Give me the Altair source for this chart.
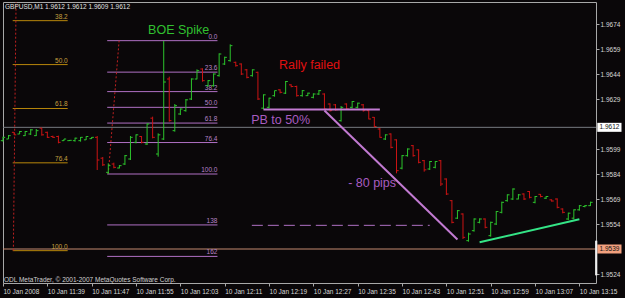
import altair as alt
import pandas as pd

FONT = "Liberation Sans"
BG = "#0a0709"
UP = "#2cc42c"
DN = "#cc1414"
VIOLET = "#b070c4"
GOLD = "#b8860b"

# ---------------- data ----------------
opens = [1.9604, 1.9605, 1.9609, 1.9608, 1.9607, 1.9608, 1.9607, 1.96115, 1.9609, 1.96065,
         1.96065, 1.9604, 1.9604, 1.9604, 1.9604, 1.96045, 1.96052, 1.9606, 1.95935, 1.9585,
         1.959, 1.95876, 1.959, 1.9593, 1.9603, 1.96065, 1.9602, 1.96175, 1.9596, 1.9605,
         1.9641, 1.961, 1.962, 1.9622, 1.9629, 1.9641, 1.9647, 1.9637, 1.9637, 1.9643,
         1.965, 1.9652, 1.9651, 1.965, 1.96465, 1.9643, 1.9645, 1.96235, 1.9624, 1.9631,
         1.96345, 1.96325, 1.96375, 1.96365, 1.9631, 1.9631, 1.963, 1.9632, 1.9632, 1.9626,
         1.96255, 1.9616, 1.9626, 1.9624, 1.9624, 1.96255, 1.9622, 1.9618, 1.9611, 1.9605,
         1.9608, 1.96045, 1.95875, 1.9595, 1.9601, 1.95985, 1.9592, 1.9587, 1.9588, 1.9592,
         1.9581, 1.9568, 1.95575, 1.956, 1.9544, 1.955, 1.9555, 1.9557, 1.9547, 1.9554,
         1.9561, 1.9568, 1.9569, 1.9569, 1.9572, 1.95735, 1.9567, 1.95718, 1.95695, 1.95685,
         1.9569, 1.9563, 1.9557, 1.95575, 1.95625, 1.95645, 1.9565]
highs = [1.96064, 1.96074, 1.96092, 1.96098, 1.96098, 1.9611, 1.9611, 1.96118, 1.96094, 1.9607,
         1.9607, 1.9605, 1.96044, 1.96058, 1.96062, 1.96066, 1.96062, 1.96068, 1.95942, 1.95904,
         1.95908, 1.95894, 1.95954, 1.96068, 1.96078, 1.96068, 1.96144, 1.96184, 1.96084, 1.96638,
         1.96424, 1.9626, 1.96234, 1.9629, 1.96414, 1.96468, 1.96474, 1.96404, 1.96444, 1.96564,
         1.96544, 1.96618, 1.96514, 1.96504, 1.9647, 1.96468, 1.96454, 1.96318, 1.96298, 1.9634,
         1.96348, 1.96398, 1.96378, 1.9637, 1.96344, 1.96328, 1.96324, 1.96344, 1.96324, 1.96264,
         1.9626, 1.96248, 1.96264, 1.96278, 1.96268, 1.9626, 1.96224, 1.96182, 1.96116, 1.96078,
         1.96084, 1.96048, 1.95954, 1.95994, 1.96014, 1.95988, 1.95924, 1.95918, 1.95918, 1.95924,
         1.95814, 1.95684, 1.95624, 1.95604, 1.95488, 1.95574, 1.95574, 1.95574, 1.95554, 1.95618,
         1.95674, 1.95718, 1.95754, 1.9572, 1.95724, 1.95738, 1.95708, 1.9572, 1.95708, 1.95688,
         1.95694, 1.95634, 1.95608, 1.95628, 1.95654, 1.95654, 1.95674]
lows = [1.96034, 1.9605, 1.96074, 1.9608, 1.96068, 1.96074, 1.96068, 1.9607, 1.96056, 1.96056,
        1.96024, 1.96038, 1.96038, 1.96034, 1.96034, 1.96044, 1.9605, 1.95864, 1.95888, 1.9584,
        1.95874, 1.95874, 1.95894, 1.95924, 1.96024, 1.96024, 1.96014, 1.96054, 1.95944, 1.96044,
        1.96154, 1.96094, 1.96194, 1.96214, 1.96284, 1.96408, 1.96394, 1.96364, 1.96364, 1.96424,
        1.96494, 1.96514, 1.96484, 1.96434, 1.96414, 1.96424, 1.96284, 1.96228, 1.96234, 1.96304,
        1.96324, 1.9632, 1.9636, 1.96304, 1.96304, 1.96308, 1.96294, 1.96314, 1.96224, 1.96214,
        1.9622, 1.96154, 1.96224, 1.96234, 1.96234, 1.96214, 1.96168, 1.9612, 1.96058, 1.96044,
        1.95994, 1.95844, 1.95868, 1.95944, 1.95944, 1.95904, 1.95854, 1.95864, 1.95874, 1.95768,
        1.95714, 1.95544, 1.9557, 1.9545, 1.95434, 1.95494, 1.95544, 1.95514, 1.95464, 1.95534,
        1.95604, 1.95674, 1.95684, 1.95688, 1.95684, 1.95694, 1.95664, 1.957, 1.9569, 1.95674,
        1.95634, 1.95604, 1.95564, 1.95568, 1.9562, 1.9564, 1.95648]
closes = [1.9606, 1.9607, 1.96075, 1.96095, 1.96095, 1.96105, 1.961, 1.96075, 1.9606, 1.9606,
          1.9603, 1.9605, 1.96042, 1.96055, 1.9606, 1.96065, 1.9606, 1.95924, 1.95895, 1.9589,
          1.9588, 1.9589, 1.9595, 1.9606, 1.96075, 1.9603, 1.9614, 1.9606, 1.96075, 1.96392,
          1.9616, 1.9625, 1.9623, 1.96285, 1.9641, 1.9646, 1.964, 1.964, 1.9644, 1.9656,
          1.9654, 1.9661, 1.9649, 1.9644, 1.9642, 1.96465, 1.9629, 1.96315, 1.96295, 1.9634,
          1.9633, 1.96395, 1.96365, 1.9631, 1.9634, 1.96325, 1.9632, 1.9634, 1.9623, 1.9622,
          1.96225, 1.9624, 1.9623, 1.96275, 1.96265, 1.9622, 1.9617, 1.96125, 1.9606, 1.96075,
          1.96, 1.9586, 1.9595, 1.9599, 1.9595, 1.9591, 1.95865, 1.95915, 1.95915, 1.9578,
          1.9572, 1.9555, 1.9562, 1.9546, 1.9548, 1.9557, 1.9557, 1.9552, 1.9555, 1.95615,
          1.9567, 1.95715, 1.9575, 1.95715, 1.9569, 1.957, 1.95705, 1.95705, 1.95705, 1.95678,
          1.9564, 1.9561, 1.95605, 1.95625, 1.9565, 1.9565, 1.9567]

tick_minutes = [0, 8, 16, 24, 32, 40, 48, 56, 64, 72, 80, 88, 96, 104]
tick_labels = ["10 Jan 2008", "10 Jan 11:39", "10 Jan 11:47", "10 Jan 11:55", "10 Jan 12:03",
               "10 Jan 12:11", "10 Jan 12:19", "10 Jan 12:27", "10 Jan 12:35", "10 Jan 12:43",
               "10 Jan 12:51", "10 Jan 12:59", "10 Jan 13:07", "10 Jan 13:15"]
price_ticks = [1.9524, 1.9554, 1.9569, 1.9584, 1.9599, 1.9629, 1.9644, 1.9659, 1.9674]

fib_levels = [0, 23.6, 38.2, 50.0, 61.8, 76.4, 100.0, 138.2, 161.8]
fib_texts = ["0.0", "23.6", "38.2", "50.0", "61.8", "76.4", "100.0", "138", "162"]
fib1_hi, fib1_lo, fib1_t = 1.97613, 1.95380, [1.75, 11.67]
fib2_hi, fib2_lo, fib2_t = 1.96640, 1.95840, [18.8, 38.7]
fib1_trend = [(1.87, 1.95380), (2.60, 1.97613)]
fib2_trend = [(19.0, 1.95840), (20.95, 1.96640)]

hlines = [1.9612, 1.9539]
hline_colors = ["#767a80", "#c48a70"]

pb_line = [(47, 1.96227), (68, 1.96227)]
drop_line = [(58, 1.96221), (82, 1.95447)]
support_line = [(86, 1.95430), (104, 1.95568)]
dash_line = [(44.9, 1.95532), (77.0, 1.95532)]

ann_text = ["BOE Spike", "Rally failed", "PB to 50%", "- 80 pips"]
ann_t = [31.7, 55.3, 50.1, 66.6]
ann_price = [1.96704, 1.96494, 1.96164, 1.95786]
ann_color = ["#30c030", "#e01010", "#a85cc0", "#a85cc0"]

box_prices = [1.9612, 1.9539]
box_fill = ["#ffffff", "#f2a07e"]
box_text = ["1.9612", "1.9539"]
scroll_mark = [1.95440, 1.95232]

title_text = "GBPUSD,M1  1.9612 1.9612 1.9609 1.9612"
footer_text = "ODL MetaTrader, \u00a9 2001-2007 MetaQuotes Software Corp."

# ---------------- scales / axes ----------------
W, H = 593, 281
X_SCALE = alt.Scale(domain=[0, 107], nice=False, zero=False)
Y_SCALE = alt.Scale(domain=[1.95186, 1.96872], nice=False, zero=False)
label_arr = "[" + ",".join("'%s'" % s for s in tick_labels) + "]"
x_axis = alt.Axis(values=tick_minutes, labelExpr=label_arr + "[round(datum.value/8)]",
                  orient="bottom", domain=False, grid=False, ticks=True, tickSize=3,
                  tickColor="#a8a8a8", labelAlign="left", labelBaseline="top",
                  labelPadding=2, labelColor="#d8d8d8", labelFont=FONT, labelFontSize=6.5,
                  labelOverlap=False, labelFlush=False, title=None)
y_axis = alt.Axis(values=price_ticks, format=".4f", orient="right", domain=False, grid=False,
                  ticks=True, tickSize=3, tickColor="#a8a8a8", labelPadding=1,
                  labelColor="#d8d8d8", labelFont=FONT, labelFontSize=6.5,
                  labelOverlap=False, labelFlush=False, title=None)


def X(f):
    return alt.X(f"{f}:Q", scale=X_SCALE, axis=x_axis, title=None)


def Y(f):
    return alt.Y(f"{f}:Q", scale=Y_SCALE, axis=y_axis, title=None)


def seg_df(segs):
    rows = []
    for i, ((t0, p0), (t1, p1)) in enumerate(segs):
        rows.append({"id": i, "t0": t0, "p0": p0, "t1": t1, "p1": p1})
    return pd.DataFrame(rows)


def fib_df(hi, lo, t):
    rows = []
    for lv, tx in zip(fib_levels, fib_texts):
        rows.append({"price": hi - lv / 100.0 * (hi - lo), "t0": t[0], "t1": t[1], "label": tx})
    return pd.DataFrame(rows)


bars = pd.DataFrame({"t": list(range(len(opens))), "open": opens, "high": highs,
                     "low": lows, "close": closes})
bar_color = alt.when(alt.datum.close >= alt.datum.open).then(alt.value(UP)).otherwise(alt.value(DN))

layers = []

# horizontal price lines
hl = pd.DataFrame({"price": hlines, "c": hline_colors})
layers.append(alt.Chart(hl).mark_rule(strokeWidth=1).encode(
    y=Y("price"), color=alt.Color("c:N", scale=None)))

# fib 1 (gold) - visible levels 38.2 .. 100
f1 = fib_df(fib1_hi, fib1_lo, fib1_t).iloc[2:7]
layers.append(alt.Chart(f1).mark_rule(color=GOLD, strokeWidth=1).encode(
    x=X("t0"), x2="t1:Q", y=Y("price")))
layers.append(alt.Chart(f1).mark_text(color="#c8a040", font=FONT, fontSize=6.5, align="right",
                                      baseline="alphabetic", dy=-2).encode(
    x=X("t1"), y=Y("price"), text="label:N"))

# fib 2 (violet)
f2 = fib_df(fib2_hi, fib2_lo, fib2_t)
layers.append(alt.Chart(f2).mark_rule(color=VIOLET, strokeWidth=1).encode(
    x=X("t0"), x2="t1:Q", y=Y("price")))
layers.append(alt.Chart(f2).mark_text(color="#b884c8", font=FONT, fontSize=6.5, align="right",
                                      baseline="alphabetic", dy=-2).encode(
    x=X("t1"), y=Y("price"), text="label:N"))

# fib trend (dotted red)
ft = seg_df([fib1_trend, fib2_trend])
layers.append(alt.Chart(ft).mark_rule(color="#c02020", strokeWidth=1, strokeDash=[2, 2], clip=True).encode(
    x=X("t0"), y=Y("p0"), x2="t1:Q", y2="p1:Q"))

# dashed violet line
layers.append(alt.Chart(seg_df([dash_line])).mark_rule(color=VIOLET, strokeWidth=1, strokeDash=[11, 5]).encode(
    x=X("t0"), y=Y("p0"), x2="t1:Q", y2="p1:Q"))

# bars
layers.append(alt.Chart(bars).mark_rule(strokeWidth=1).encode(
    x=X("t"), y=Y("low"), y2="high:Q", color=bar_color))
layers.append(alt.Chart(bars).mark_rule(strokeWidth=1, xOffset=-2.2, x2Offset=0).encode(
    x=X("t"), x2="t:Q", y=Y("open"), color=bar_color))
layers.append(alt.Chart(bars).mark_rule(strokeWidth=1, xOffset=0, x2Offset=2.2).encode(
    x=X("t"), x2="t:Q", y=Y("close"), color=bar_color))

# drawn lines
layers.append(alt.Chart(seg_df([pb_line, drop_line])).mark_rule(color="#c27ad2", strokeWidth=2).encode(
    x=X("t0"), y=Y("p0"), x2="t1:Q", y2="p1:Q"))
layers.append(alt.Chart(seg_df([support_line])).mark_rule(color="#34e486", strokeWidth=2).encode(
    x=X("t0"), y=Y("p0"), x2="t1:Q", y2="p1:Q"))

# annotations
ann = pd.DataFrame({"text": ann_text, "t": ann_t, "price": ann_price, "c": ann_color})
layers.append(alt.Chart(ann).mark_text(font=FONT, fontSize=12.5, align="center", baseline="middle").encode(
    x=X("t"), y=Y("price"), text="text:N", color=alt.Color("c:N", scale=None)))

# right-side price boxes
bx = pd.DataFrame({"price": box_prices, "fill": box_fill, "text": box_text})
layers.append(alt.Chart(bx).mark_rect(yOffset=-4.5, y2Offset=4.5).encode(
    x=alt.value(594.3), x2=alt.value(618.5), y=Y("price"), y2="price:Q",
    color=alt.Color("fill:N", scale=None)))
layers.append(alt.Chart(bx).mark_text(font=FONT, fontSize=6.5, align="left", baseline="middle",
                                      color="#101010").encode(
    x=alt.value(596.5), y=Y("price"), text="text:N"))
sm = pd.DataFrame({"a": [scroll_mark[0]], "b": [scroll_mark[1]]})
layers.append(alt.Chart(sm).mark_rule(color="#f0f0f0", strokeWidth=2.2).encode(
    x=alt.value(593.2), y=Y("a"), y2="b:Q"))

# header / footer text
hdr = pd.DataFrame({"text": [title_text]})
layers.append(alt.Chart(hdr).mark_text(font=FONT, fontSize=6.5, align="left", baseline="middle",
                                       color="#e0e0e0").encode(
    x=alt.value(2), y=alt.value(4.8), text="text:N"))
ftr = pd.DataFrame({"text": [footer_text]})
layers.append(alt.Chart(ftr).mark_text(font=FONT, fontSize=6.5, align="left", baseline="middle",
                                       color="#d0d0d0").encode(
    x=alt.value(1), y=alt.value(278), text="text:N"))

chart = alt.layer(*layers).properties(
    width=W, height=H, background=BG,
    padding={"left": 3, "top": 2, "right": 29, "bottom": 15},
    autosize=alt.AutoSizeParams(type="none"),
).configure_view(stroke="#a8a8a8", strokeWidth=1, fill=BG)

chart.save("out.html", embed_options={"renderer": "svg", "actions": False})
